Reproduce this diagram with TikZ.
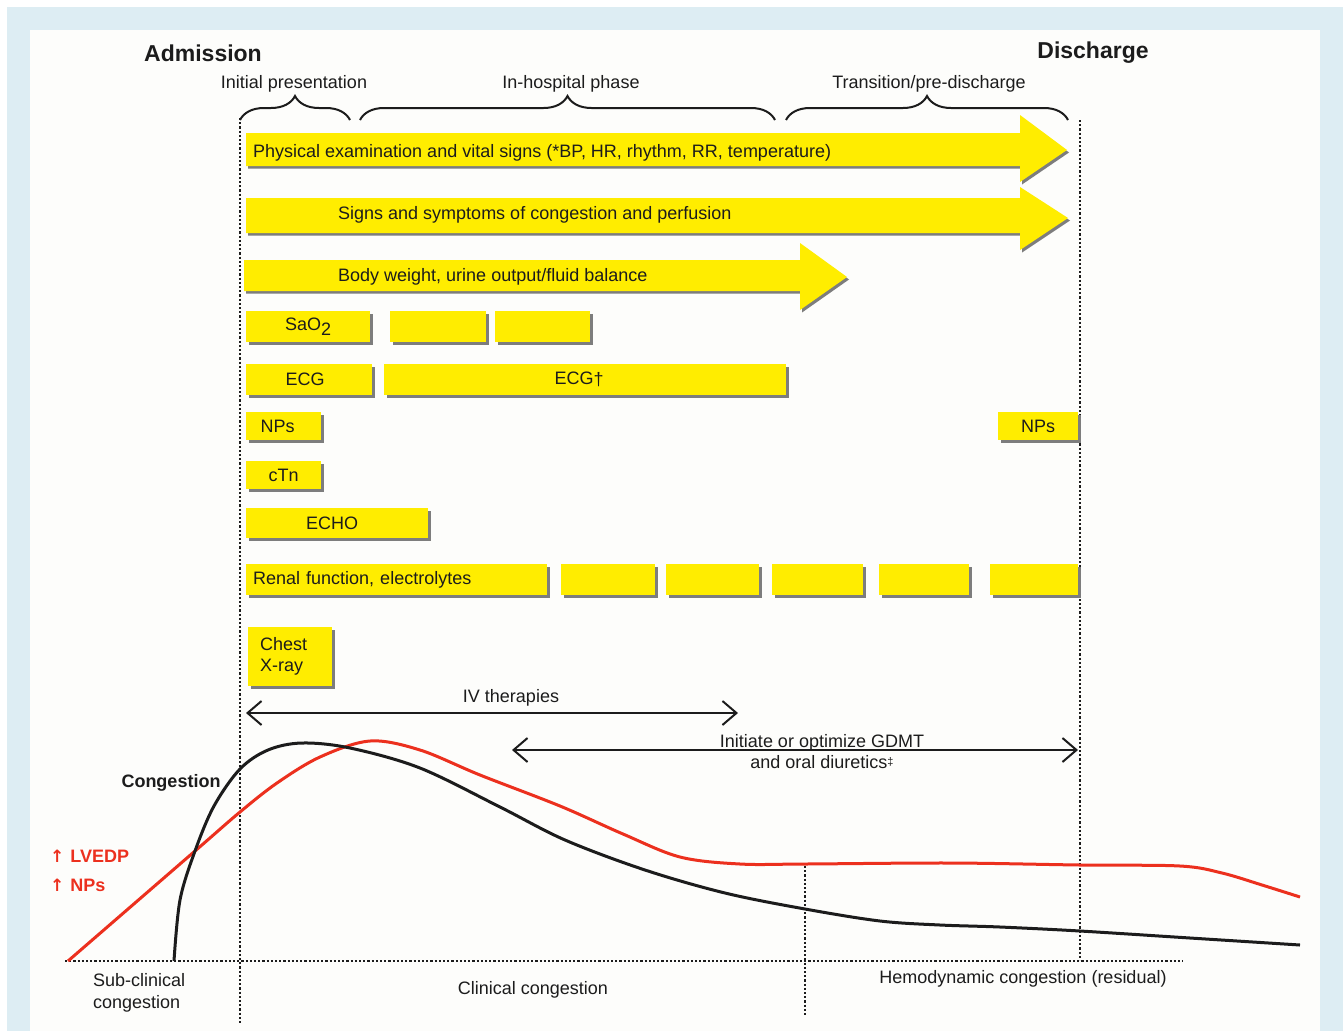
\documentclass[tikz,border=0pt]{standalone}
\usepackage{fontspec}
\setmainfont{Liberation Sans}
\newfontfamily\arrowfont{DejaVu Sans}
\usetikzlibrary{positioning,calc,arrows.meta,shadows,decorations.pathreplacing}

\definecolor{frameblue}{RGB}{221,237,243}
\definecolor{paper}{RGB}{253,253,251}
\definecolor{testyellow}{RGB}{255,237,0}
\definecolor{shadowgray}{RGB}{125,125,125}
\definecolor{lvedpred}{RGB}{236,48,30}
\definecolor{ink}{RGB}{28,28,28}

\begin{document}
\begin{tikzpicture}[x=1pt,y=-1pt,font=\fontsize{18}{21}\selectfont,text=ink,
	test/.style={fill=testyellow,anchor=north west,inner sep=0pt,align=center,
		drop shadow={shadow xshift=3pt,shadow yshift=-3pt,fill=shadowgray,opacity=1}},
	band/.style={fill=testyellow,
		drop shadow={shadow xshift=2pt,shadow yshift=-2.5pt,fill=shadowgray,opacity=1}},
	period/.style={decorate,decoration={brace,amplitude=24pt},line width=2pt,ink},
	timeline/.style={line width=2.3pt,dash pattern=on 2.2pt off 2pt,ink},
	therapy/.style={{Straight Barb[length=14pt,width=24pt]}-{Straight Barb[length=14pt,width=24pt]},line width=2pt,ink},
	curve/.style={line width=3pt,smooth,tension=0.55},
	heading/.style={font=\bfseries\fontsize{23}{27}\selectfont}]
	\useasboundingbox (0,0) rectangle (1343,1031);
	%% Frame
	\fill[frameblue] (7,7) rectangle (1343,1031);
	\fill[paper] (30,30) rectangle (1320,1031);
	
	%% Admission and discharge
	\node (Admission) [heading] at (203,53) {Admission};
	\node (Discharge) [heading] at (1093,53) {Discharge};
	
	%% Phases
	\coordinate (initA) at (240,120);
	\coordinate (initB) at (350,120);
	\coordinate (hospA) at (360,120);
	\coordinate (hospB) at (775,120);
	\coordinate (tranA) at (786,120);
	\coordinate (tranB) at (1068,120);
	\draw[period] (initA) -- (initB);
	\draw[period] (hospA) -- (hospB);
	\draw[period] (tranA) -- (tranB);
	\node (Initial) at (294,84) {Initial presentation};
	\node (Hospital) at (571,84) {In-hospital phase};
	\node (Transition) at (929,84) {Transition/pre-discharge};
	
	%% Time lines
	\coordinate (admTop) at (240,118);
	\coordinate (admBot) at (240,1025);
	\coordinate (disTop) at (1080,120);
	\coordinate (disBot) at (1080,960);
	\coordinate (resTop) at (805,866);
	\coordinate (resBot) at (805,1015);
	\coordinate (baseL) at (65,961);
	\coordinate (baseR) at (1183,961);
	\draw[timeline] (admTop) -- (admBot);
	\draw[timeline] (disTop) -- (disBot);
	\draw[timeline] (resTop) -- (resBot);
	\draw[timeline] (baseL) -- (baseR);
	
	%% Continuous monitoring
	\path[band] (246,133) -- (1020,133) -- (1020,115) -- (1067,150) -- (1020,182) -- (1020,166) -- (246,166) -- cycle;
	\node (Vitals) [anchor=west,inner sep=0pt] at (253,153) {Physical examination and vital signs (*BP, HR, rhythm, RR, temperature)};
	
	\path[band] (246,198) -- (1020,198) -- (1020,187) -- (1068,218) -- (1020,250) -- (1020,233) -- (246,233) -- cycle;
	\node (Signs) [anchor=west,inner sep=0pt] at (338,215) {Signs and symptoms of congestion and perfusion};
	
	\path[band] (244,260) -- (800,260) -- (800,243) -- (847,277) -- (800,310) -- (800,291) -- (244,291) -- cycle;
	\node (Weight) [anchor=west,inner sep=0pt] at (338,277) {Body weight, urine output/fluid balance};
	
	%% Tests
	\node (SaOa) [test,minimum width=124pt,minimum height=31pt] at (246,311) {SaO\raisebox{-5pt}{2}};
	\node (SaOb) [test,minimum width=96pt,minimum height=31pt] at (390,311) {};
	\node (SaOc) [test,minimum width=95pt,minimum height=31pt] at (495,311) {};
	
	\node (ECGa) [test,minimum width=126pt,minimum height=31pt] at (246,364) {ECG\hspace{8pt}};
	\node (ECGb) [test,minimum width=402pt,minimum height=31pt] at (384,364) {ECG\raisebox{-1pt}{†}\hspace{12pt}};
	
	\node (NPsa) [test,minimum width=75pt,minimum height=28pt] at (246,412) {NPs\hspace{12pt}};
	\node (NPsb) [test,minimum width=80pt,minimum height=28pt] at (998,412) {NPs};
	
	\node (cTn) [test,minimum width=75pt,minimum height=28pt] at (246,461) {cTn};
	
	\node (ECHO) [test,minimum width=182pt,minimum height=30pt] at (246,508) {ECHO\hspace{10pt}};
	
	\node (Renal) [test,minimum width=301pt,minimum height=31pt,text width=287pt,inner xsep=7pt,align=left] at (246,564) {Renal function, electrolytes};
	\node (Renalb) [test,minimum width=94pt,minimum height=31pt] at (561,564) {};
	\node (Renalc) [test,minimum width=93pt,minimum height=31pt] at (666,564) {};
	\node (Renald) [test,minimum width=91pt,minimum height=31pt] at (772,564) {};
	\node (Renale) [test,minimum width=90pt,minimum height=31pt] at (879,564) {};
	\node (Renalf) [test,minimum width=88pt,minimum height=31pt] at (990,564) {};
	
	\node (Xray) [test,minimum width=84pt,minimum height=59pt,text width=60pt,inner xsep=12pt,align=left] at (248,627) {Chest\\X-ray};
	
	%% Therapies
	\coordinate (ivL) at (246,713);
	\coordinate (ivR) at (738,713);
	\draw[therapy] (ivL) -- (ivR);
	\node (IV) at (511,698) {IV therapies};
	
	\coordinate (gdmtL) at (512,750);
	\coordinate (gdmtR) at (1078,750);
	\draw[therapy] (gdmtL) -- (gdmtR);
	\node (GDMT) [align=center] at (822,752) {Initiate or optimize GDMT\\and oral diuretics\raisebox{3pt}{\fontsize{11}{12}\selectfont‡}};
	
	%% Curves
	\draw[curve,lvedpred] plot coordinates {(68,961) (195,851) (240,812) (277,783) (320,757) (370,741) (420,750) (480,775) (560,806) (623,834) (680,857) (740,864) (805,864) (950,863) (1080,865) (1180,866) (1222,873) (1262,885) (1300,897)};
	\draw[curve,ink] plot coordinates {(174,961) (180,900) (195,851) (214,806) (240,769) (268,750) (302,743) (350,748) (420,768) (500,807) (565,840) (645,870) (725,893) (805,909) (880,921) (940,925) (1000,927) (1080,931) (1190,938) (1300,945)};
	
	%% Curve labels
	\node (Congestion) [font=\bfseries\fontsize{18}{21}\selectfont] at (171,783) {Congestion};
	\node (LVEDP) [anchor=west,inner sep=0pt,lvedpred,font=\bfseries\fontsize{18}{21}\selectfont] at (50,856) {{\arrowfont\bfseries\fontsize{17}{17}\selectfont ↑}\hspace{6pt}LVEDP};
	\node (NPs) [anchor=west,inner sep=0pt,lvedpred,font=\bfseries\fontsize{18}{21}\selectfont] at (50,885) {{\arrowfont\bfseries\fontsize{17}{17}\selectfont ↑}\hspace{6pt}NPs};
	
	%% Stages
	\node (Subclinical) [anchor=west,inner sep=0pt,align=left,font=\fontsize{18}{22}\selectfont] at (93,993) {Sub-clinical\\congestion};
	\node (Clinical) at (533,990) {Clinical congestion};
	\node (Residual) at (1023,979) {Hemodynamic congestion (residual)};
\end{tikzpicture}
\end{document}
